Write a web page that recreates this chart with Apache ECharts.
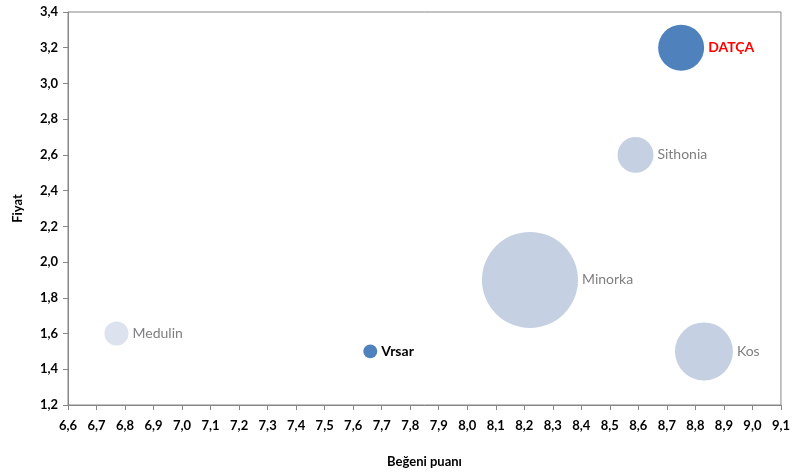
<!DOCTYPE html>
<html><head><meta charset="utf-8">
<script src="https://cdn.jsdelivr.net/npm/echarts@6/dist/echarts.min.js"></script>
<style>html,body{margin:0;padding:0;background:#fff}#c{width:793px;height:473px}</style>
</head><body><div id="c"></div>
<script>
const names = ['DATÇA','Sithonia','Minorka','Kos','Medulin','Vrsar'];
const begeni = [8.75, 8.59, 8.22, 8.83, 6.77, 7.66];
const fiyat = [3.2, 2.6, 1.9, 1.5, 1.6, 1.5];
const boyut = [23, 14, 100, 36.5, 6.3, 2.1];

const fill = {DATÇA:'#4F81BD', Vrsar:'#4F81BD', Medulin:'#DCE3EF'};
const labelStyle = {
  DATÇA:{color:'#FF0000', fontWeight:'bold'},
  Vrsar:{color:'#000000', fontWeight:'bold'}
};
const FONT = "Lato, 'Open Sans', sans-serif";
const data = names.map((n,i)=>({
  name:n,
  value:[begeni[i], fiyat[i], boyut[i]],
  itemStyle:{color: fill[n] || '#C5D1E3', opacity:1},
  label:Object.assign({show:true, position:'right', distance:4, formatter:n, fontFamily:FONT, fontSize:14, color:'#7F7F7F'}, labelStyle[n]||{})
}));
const chart = echarts.init(document.getElementById('c'), null, {renderer:'canvas'});
const axisCommon = {
  axisLine:{show:true, lineStyle:{color:'#868686', width:1}},
  axisTick:{show:true, inside:false, length:5, lineStyle:{color:'#868686'}},
  splitLine:{show:false},
  nameTextStyle:{fontFamily:FONT, fontWeight:'bold', fontSize:13, color:'#000'}
};
chart.setOption({
  animation:false,
  grid:{left:68, right:8, top:12, bottom:67, show:true, borderColor:'#868686', borderWidth:1},
  xAxis:Object.assign({}, axisCommon, {
    type:'value', min:6.6, max:9.1, interval:0.1,
    name:'Beğeni puanı', nameLocation:'middle', nameGap:50,
    axisLabel:{fontFamily:FONT, fontWeight:'bold', fontSize:13, color:'#000', margin:14,
      formatter:v=>v.toFixed(1).replace('.',',')}
  }),
  yAxis:Object.assign({}, axisCommon, {
    type:'value', min:1.2, max:3.4, interval:0.2,
    name:'Fiyat', nameLocation:'middle', nameGap:44, nameRotate:90,
    axisLabel:{fontFamily:FONT, fontWeight:'bold', fontSize:13, color:'#000', margin:10,
      formatter:v=>v.toFixed(1).replace('.',',')}
  }),
  series:[{
    type:'scatter',
    symbol:'circle',
    symbolSize:function(d){ return 9.6*Math.sqrt(d[2]); },
    data:data,
    z:2
  }]
});
</script></body></html>
